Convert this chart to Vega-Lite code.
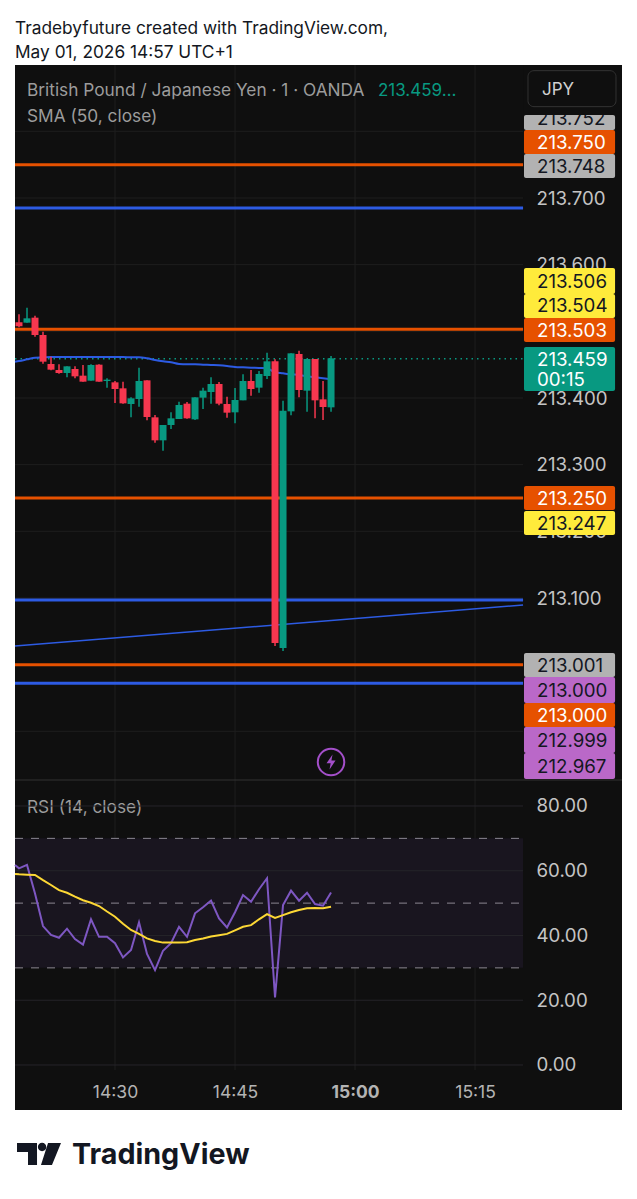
{
"$schema":"https://vega.github.io/schema/vega-lite/v6.json",
"width":607,"height":1045,"autosize":"none","padding":{"left":15,"top":65,"right":15,"bottom":89},
"background":"#ffffff",
"title":{"text":["Tradebyfuture created with TradingView.com,","May 01, 2026 14:57 UTC+1"],"anchor":"start","frame":"group","font":"Inter","fontSize":17.3,"fontWeight":"normal","color":"#131722","lineHeight":24.5,"offset":3},
"config":{"view":{"fill":"#0f0f0f","stroke":null},"text":{"font":"Inter"}},
"datasets":{
"candles":[
{"time":"2026-05-01T14:17:30Z","sma":213.4545,"rsi":61.8,"rsiMa":59.0},
{"time":"2026-05-01T14:18:00Z","open":213.5135,"high":213.5255,"low":213.506,"close":213.5075,"sma":213.4555,"rsi":60.75,"rsiMa":58.9},
{"time":"2026-05-01T14:19:00Z","open":213.513,"high":213.5355,"low":213.513,"close":213.5195,"sma":213.458,"rsi":61.8,"rsiMa":58.8},
{"time":"2026-05-01T14:20:00Z","open":213.5205,"high":213.5235,"low":213.492,"close":213.4945,"sma":213.4605,"rsi":53.0,"rsiMa":58.7},
{"time":"2026-05-01T14:21:00Z","open":213.4945,"high":213.4995,"low":213.4515,"close":213.4545,"sma":213.461,"rsi":42.9,"rsiMa":57.1},
{"time":"2026-05-01T14:22:00Z","open":213.451,"high":213.462,"low":213.4415,"close":213.4425,"sma":213.4615,"rsi":40.2,"rsiMa":55.6},
{"time":"2026-05-01T14:23:00Z","open":213.442,"high":213.4505,"low":213.4365,"close":213.4375,"sma":213.4615,"rsi":39.3,"rsiMa":54.0},
{"time":"2026-05-01T14:24:00Z","open":213.4375,"high":213.4475,"low":213.431,"close":213.4475,"sma":213.4615,"rsi":42.1,"rsiMa":53.2},
{"time":"2026-05-01T14:25:00Z","open":213.4435,"high":213.4475,"low":213.4295,"close":213.4325,"sma":213.4615,"rsi":38.9,"rsiMa":52.0},
{"time":"2026-05-01T14:26:00Z","open":213.4335,"high":213.4495,"low":213.4245,"close":213.4245,"sma":213.4615,"rsi":37.2,"rsiMa":50.9},
{"time":"2026-05-01T14:27:00Z","open":213.426,"high":213.4505,"low":213.426,"close":213.4495,"sma":213.4615,"rsi":45.0,"rsiMa":50.1},
{"time":"2026-05-01T14:28:00Z","open":213.45,"high":213.4505,"low":213.4245,"close":213.4245,"sma":213.4615,"rsi":39.6,"rsiMa":49.1},
{"time":"2026-05-01T14:29:00Z","open":213.4255,"high":213.4295,"low":213.4155,"close":213.4275,"sma":213.4615,"rsi":39.6,"rsiMa":47.4},
{"time":"2026-05-01T14:30:00Z","open":213.4235,"high":213.4255,"low":213.3925,"close":213.4135,"sma":213.4615,"rsi":37.6,"rsiMa":45.8},
{"time":"2026-05-01T14:31:00Z","open":213.4145,"high":213.4245,"low":213.3915,"close":213.392,"sma":213.4615,"rsi":33.2,"rsiMa":43.6},
{"time":"2026-05-01T14:32:00Z","open":213.391,"high":213.401,"low":213.371,"close":213.3995,"sma":213.461,"rsi":35.5,"rsiMa":41.7},
{"time":"2026-05-01T14:33:00Z","open":213.3985,"high":213.4455,"low":213.387,"close":213.4255,"sma":213.461,"rsi":44.1,"rsiMa":40.5},
{"time":"2026-05-01T14:34:00Z","open":213.4265,"high":213.4265,"low":213.3665,"close":213.3715,"sma":213.4595,"rsi":34.3,"rsiMa":39.1},
{"time":"2026-05-01T14:35:00Z","open":213.371,"high":213.3745,"low":213.333,"close":213.3365,"sma":213.457,"rsi":29.3,"rsiMa":38.3},
{"time":"2026-05-01T14:36:00Z","open":213.3365,"high":213.3595,"low":213.321,"close":213.3595,"sma":213.455,"rsi":35.3,"rsiMa":37.8},
{"time":"2026-05-01T14:37:00Z","open":213.3595,"high":213.3785,"low":213.3535,"close":213.3695,"sma":213.4535,"rsi":37.6,"rsiMa":37.8},
{"time":"2026-05-01T14:38:00Z","open":213.3685,"high":213.3945,"low":213.3685,"close":213.3895,"sma":213.451,"rsi":42.7,"rsiMa":37.8},
{"time":"2026-05-01T14:39:00Z","open":213.3915,"high":213.394,"low":213.369,"close":213.3695,"sma":213.4505,"rsi":39.6,"rsiMa":37.9},
{"time":"2026-05-01T14:40:00Z","open":213.368,"high":213.401,"low":213.367,"close":213.401,"sma":213.4505,"rsi":46.85,"rsiMa":38.6},
{"time":"2026-05-01T14:41:00Z","open":213.4005,"high":213.4155,"low":213.3835,"close":213.411,"sma":213.45,"rsi":48.7,"rsiMa":39.1},
{"time":"2026-05-01T14:42:00Z","open":213.409,"high":213.431,"low":213.3915,"close":213.421,"sma":213.4495,"rsi":50.8,"rsiMa":39.7},
{"time":"2026-05-01T14:43:00Z","open":213.421,"high":213.424,"low":213.389,"close":213.3915,"sma":213.449,"rsi":45.3,"rsiMa":40.1},
{"time":"2026-05-01T14:44:00Z","open":213.391,"high":213.402,"low":213.3705,"close":213.378,"sma":213.448,"rsi":42.5,"rsiMa":40.5},
{"time":"2026-05-01T14:45:00Z","open":213.3785,"high":213.415,"low":213.362,"close":213.397,"sma":213.4465,"rsi":47.2,"rsiMa":41.6},
{"time":"2026-05-01T14:46:00Z","open":213.3965,"high":213.4355,"low":213.3965,"close":213.4255,"sma":213.446,"rsi":52.5,"rsiMa":42.7},
{"time":"2026-05-01T14:47:00Z","open":213.4255,"high":213.442,"low":213.4035,"close":213.4135,"sma":213.4455,"rsi":50.45,"rsiMa":43.2},
{"time":"2026-05-01T14:48:00Z","open":213.4155,"high":213.4405,"low":213.408,"close":213.436,"sma":213.445,"rsi":54.3,"rsiMa":45.0},
{"time":"2026-05-01T14:49:00Z","open":213.433,"high":213.468,"low":213.4285,"close":213.455,"sma":213.4445,"rsi":57.7,"rsiMa":46.6},
{"time":"2026-05-01T14:50:00Z","open":213.455,"high":213.458,"low":213.028,"close":213.0325,"sma":213.4385,"rsi":20.9,"rsiMa":45.4},
{"time":"2026-05-01T14:51:00Z","open":213.025,"high":213.396,"low":213.0205,"close":213.381,"sma":213.437,"rsi":49.4,"rsiMa":46.3},
{"time":"2026-05-01T14:52:00Z","open":213.38,"high":213.467,"low":213.374,"close":213.467,"sma":213.4355,"rsi":53.85,"rsiMa":47.2},
{"time":"2026-05-01T14:53:00Z","open":213.466,"high":213.471,"low":213.401,"close":213.412,"sma":213.4345,"rsi":50.75,"rsiMa":47.9},
{"time":"2026-05-01T14:54:00Z","open":213.411,"high":213.4585,"low":213.3795,"close":213.4585,"sma":213.4325,"rsi":53.2,"rsiMa":48.4},
{"time":"2026-05-01T14:55:00Z","open":213.4585,"high":213.4585,"low":213.3695,"close":213.3965,"sma":213.431,"rsi":49.7,"rsiMa":48.5},
{"time":"2026-05-01T14:56:00Z","open":213.398,"high":213.4255,"low":213.367,"close":213.3865,"sma":213.4295,"rsi":49.2,"rsiMa":48.4},
{"time":"2026-05-01T14:57:00Z","open":213.386,"high":213.463,"low":213.3795,"close":213.4595,"sma":213.428,"rsi":53.3,"rsiMa":48.9}
],
"grid":[
{"time":"2026-05-01T14:17:30Z","timeEnd":"2026-05-01T15:21:00Z","price":213.8},
{"time":"2026-05-01T14:17:30Z","timeEnd":"2026-05-01T15:21:00Z","price":213.7},
{"time":"2026-05-01T14:17:30Z","timeEnd":"2026-05-01T15:21:00Z","price":213.6},
{"time":"2026-05-01T14:17:30Z","timeEnd":"2026-05-01T15:21:00Z","price":213.5},
{"time":"2026-05-01T14:17:30Z","timeEnd":"2026-05-01T15:21:00Z","price":213.4},
{"time":"2026-05-01T14:17:30Z","timeEnd":"2026-05-01T15:21:00Z","price":213.3},
{"time":"2026-05-01T14:17:30Z","timeEnd":"2026-05-01T15:21:00Z","price":213.2},
{"time":"2026-05-01T14:17:30Z","timeEnd":"2026-05-01T15:21:00Z","price":213.1},
{"time":"2026-05-01T14:17:30Z","timeEnd":"2026-05-01T15:21:00Z","price":213.0},
{"time":"2026-05-01T14:17:30Z","timeEnd":"2026-05-01T15:21:00Z","price":212.9}
],
"vgrid":[
{"time":"2026-05-01T14:30:00Z","price":213.8995,"priceEnd":212.392},
{"time":"2026-05-01T14:45:00Z","price":213.8995,"priceEnd":212.392},
{"time":"2026-05-01T15:00:00Z","price":213.8995,"priceEnd":212.392},
{"time":"2026-05-01T15:15:00Z","price":213.8995,"priceEnd":212.392}
],
"orangeLevels":[
{"time":"2026-05-01T14:17:30Z","timeEnd":"2026-05-01T15:21:00Z","price":213.75},
{"time":"2026-05-01T14:17:30Z","timeEnd":"2026-05-01T15:21:00Z","price":213.503},
{"time":"2026-05-01T14:17:30Z","timeEnd":"2026-05-01T15:21:00Z","price":213.25},
{"time":"2026-05-01T14:17:30Z","timeEnd":"2026-05-01T15:21:00Z","price":213.0}
],
"blueLevels":[
{"time":"2026-05-01T14:17:30Z","timeEnd":"2026-05-01T15:21:00Z","price":213.685},
{"time":"2026-05-01T14:17:30Z","timeEnd":"2026-05-01T15:21:00Z","price":213.097},
{"time":"2026-05-01T14:17:30Z","timeEnd":"2026-05-01T15:21:00Z","price":212.972}
],
"trend":[
{"time":"2026-05-01T14:17:30Z","price":213.028},
{"time":"2026-05-01T15:21:00Z","price":213.0895}
],
"boxes":[
{"time":"2026-05-01T15:21:07Z","timeEnd":"2026-05-01T15:32:30Z","label":"213.752","kind":"gray","price":213.82,"priceTop":213.8245,"priceBottom":213.802},
{"time":"2026-05-01T15:21:07Z","timeEnd":"2026-05-01T15:32:30Z","label":"213.750","kind":"orange","price":213.784,"priceTop":213.802,"priceBottom":213.766},
{"time":"2026-05-01T15:21:07Z","timeEnd":"2026-05-01T15:32:30Z","label":"213.748","kind":"gray","price":213.748,"priceTop":213.766,"priceBottom":213.73},
{"time":"2026-05-01T15:21:07Z","timeEnd":"2026-05-01T15:32:30Z","label":"213.506","kind":"yellow","price":213.5755,"priceTop":213.595,"priceBottom":213.556},
{"time":"2026-05-01T15:21:07Z","timeEnd":"2026-05-01T15:32:30Z","label":"213.504","kind":"yellow","price":213.5395,"priceTop":213.556,"priceBottom":213.52},
{"time":"2026-05-01T15:21:07Z","timeEnd":"2026-05-01T15:32:30Z","label":"213.503","kind":"orange","price":213.502,"priceTop":213.52,"priceBottom":213.484},
{"time":"2026-05-01T15:21:07Z","timeEnd":"2026-05-01T15:32:30Z","label":"213.459","kind":"teal","price":213.4585,"priceTop":213.4765,"priceBottom":213.4105},
{"time":"2026-05-01T15:21:07Z","label":"00:15","kind":"teal","price":213.4285},
{"time":"2026-05-01T15:21:07Z","timeEnd":"2026-05-01T15:32:30Z","label":"213.250","kind":"orange","price":213.25,"priceTop":213.268,"priceBottom":213.232},
{"time":"2026-05-01T15:21:07Z","timeEnd":"2026-05-01T15:32:30Z","label":"213.247","kind":"yellow","price":213.2125,"priceTop":213.2305,"priceBottom":213.1945},
{"time":"2026-05-01T15:21:07Z","timeEnd":"2026-05-01T15:32:30Z","label":"213.001","kind":"gray","price":212.9995,"priceTop":213.0175,"priceBottom":212.9815},
{"time":"2026-05-01T15:21:07Z","timeEnd":"2026-05-01T15:32:30Z","label":"213.000","kind":"purple","price":212.962,"priceTop":212.9815,"priceBottom":212.9425},
{"time":"2026-05-01T15:21:07Z","timeEnd":"2026-05-01T15:32:30Z","label":"213.000","kind":"orange","price":212.9245,"priceTop":212.9425,"priceBottom":212.9065},
{"time":"2026-05-01T15:21:07Z","timeEnd":"2026-05-01T15:32:30Z","label":"212.999","kind":"purple","price":212.887,"priceTop":212.9065,"priceBottom":212.8675},
{"time":"2026-05-01T15:21:07Z","timeEnd":"2026-05-01T15:32:30Z","label":"212.967","kind":"purple","price":212.848,"priceTop":212.8675,"priceBottom":212.8285}
]
},
"encoding":{"x":{"field":"time","type":"temporal","title":null,
"scale":{"type":"utc","domain":["2026-05-01T14:17:30Z","2026-05-01T15:33:22Z"],"padding":0},
"axis":{"orient":"bottom","offset":-31,"format":"%H:%M","values":["2026-05-01T14:30:00Z","2026-05-01T14:45:00Z","2026-05-01T15:00:00Z","2026-05-01T15:15:00Z"],"grid":false,"ticks":false,"domain":false,"labelFont":"Inter","labelFontSize":17.5,"labelColor":"#b4b4b4","labelPadding":4,"labelFontWeight":{"condition":{"test":"utchours(datum.value)==15 && utcminutes(datum.value)==0","value":"bold"},"value":"normal"}}}},
"layer":[
{"encoding":{"y":{"field":"price","type":"quantitative","title":null,"axis":null,"scale":{"domain":[212.332,213.8995],"nice":false,"zero":false}}},
"resolve":{"axis":{"y":"independent"}},
"layer":[
{"data":{"name":"vgrid"},"mark":{"type":"rule","color":"#1e1e1e","strokeWidth":1},"encoding":{"y2":{"field":"priceEnd"}}},
{"data":{"name":"grid"},"mark":{"type":"rule","color":"#1e1e1e","strokeWidth":1},"encoding":{"x2":{"field":"timeEnd"},"y":{"field":"price","type":"quantitative","title":null,"scale":{"domain":[212.332,213.8995],"nice":false,"zero":false},
"axis":{"orient":"right","offset":-99,"values":[213.7,213.6,213.4,213.3,213.2,213.1],"format":".3f","grid":false,"ticks":false,"domain":false,"labelFont":"Inter","labelFontSize":18.7,"labelColor":"#c4c4c4","labelPadding":13}}}},
{"data":{"values":[{"time":"2026-05-01T14:17:30Z","timeEnd":"2026-05-01T15:33:22Z","price":212.827}]},"mark":{"type":"rule","color":"#333333","strokeWidth":1},"encoding":{"x2":{"field":"timeEnd"}}},
{"data":{"values":[{"time":"2026-05-01T14:17:30Z","timeEnd":"2026-05-01T15:21:00Z","price":213.459}]},"mark":{"type":"rule","color":"#089981","strokeWidth":1.5,"strokeDash":[1.5,4]},"encoding":{"x2":{"field":"timeEnd"}}},
{"data":{"name":"orangeLevels"},"mark":{"type":"rule","color":"#e65100","strokeWidth":3},"encoding":{"x2":{"field":"timeEnd"}}},
{"data":{"name":"blueLevels"},"mark":{"type":"rule","color":"#2d5be3","strokeWidth":3},"encoding":{"x2":{"field":"timeEnd"}}},
{"data":{"name":"trend"},"mark":{"type":"line","color":"#2d5be3","strokeWidth":1.5}},
{"data":{"name":"candles"},"mark":{"type":"line","color":"#2d5be3","strokeWidth":2,"interpolate":"monotone"},"encoding":{"y":{"field":"sma","type":"quantitative","title":null,"axis":null,"scale":{"domain":[212.332,213.8995],"nice":false,"zero":false}}}},
{"data":{"name":"candles"},"mark":{"type":"rule","strokeWidth":1.5},"encoding":{"y":{"field":"low","type":"quantitative","title":null,"axis":null,"scale":{"domain":[212.332,213.8995],"nice":false,"zero":false}},"y2":{"field":"high"},"color":{"condition":{"test":"datum.close>=datum.open","value":"#089981"},"value":"#f7374f"}}},
{"data":{"name":"candles"},"mark":{"type":"bar","size":7},"encoding":{"y":{"field":"open","type":"quantitative","title":null,"axis":null,"scale":{"domain":[212.332,213.8995],"nice":false,"zero":false}},"y2":{"field":"close"},"color":{"condition":{"test":"datum.close>=datum.open","value":"#089981"},"value":"#f7374f"}}},
{"data":{"name":"boxes"},"mark":{"type":"rect","cornerRadius":2},"encoding":{"x2":{"field":"timeEnd"},"y":{"field":"priceTop","type":"quantitative","title":null,"axis":null,"scale":{"domain":[212.332,213.8995],"nice":false,"zero":false}},"y2":{"field":"priceBottom"},"color":{"field":"kind","type":"nominal","legend":null,"scale":{"domain":["gray","orange","yellow","teal","purple"],"range":["#b2b2b2","#e65100","#ffeb3b","#089981","#ba68c8"]}}}},
{"data":{"name":"boxes"},"mark":{"type":"text","align":"left","baseline":"middle","dx":13,"dy":1,"fontSize":18.7,"font":"Inter"},"encoding":{"text":{"field":"label"},"color":{"condition":{"test":"datum.kind=='orange'||datum.kind=='teal'","value":"#ffffff"},"value":"#131722"}}},
{"data":{"values":[{"time":"2026-05-01T15:21:07Z","timeEnd":"2026-05-01T15:33:22Z","price":213.8995,"priceEnd":213.8245}]},"mark":{"type":"rect","color":"#0f0f0f"},"encoding":{"x2":{"field":"timeEnd"},"y2":{"field":"priceEnd"}}},
{"data":{"values":[{"time":"2026-05-01T15:21:37Z","timeEnd":"2026-05-01T15:32:37Z","price":213.891,"priceEnd":213.837}]},"mark":{"type":"rect","fill":"#0f0f0f","stroke":"#333333","strokeWidth":1,"cornerRadius":6},"encoding":{"x2":{"field":"timeEnd"},"y2":{"field":"priceEnd"}}},
{"data":{"values":[{"time":"2026-05-01T15:23:22Z","price":213.864,"label":"JPY"}]},"mark":{"type":"text","align":"left","baseline":"middle","dy":1,"fontSize":17,"color":"#d1d1d1","font":"Inter"},"encoding":{"text":{"field":"label"}}},
{"data":{"values":[{"time":"2026-05-01T14:19:00Z","price":213.862,"label":"British Pound / Japanese Yen · 1 · OANDA"},{"time":"2026-05-01T14:19:00Z","price":213.823,"label":"SMA (50, close)"},{"time":"2026-05-01T14:19:00Z","price":212.7865,"label":"RSI (14, close)"}]},"mark":{"type":"text","align":"left","baseline":"middle","dy":1,"fontSize":17.3,"color":"#9c9c9c","font":"Inter"},"encoding":{"text":{"field":"label"}}},
{"data":{"values":[{"time":"2026-05-01T15:02:52Z","price":213.862,"label":"213.459…"}]},"mark":{"type":"text","align":"left","baseline":"middle","dy":1,"fontSize":17,"color":"#089981","font":"Inter"},"encoding":{"text":{"field":"label"}}},
{"data":{"values":[{"time":"2026-05-01T14:57:00Z","price":212.854}]},"mark":{"type":"point","filled":false,"stroke":"#a34fc9","strokeWidth":2,"size":700,"opacity":1}},
{"data":{"values":[{"time":"2026-05-01T14:57:00Z","price":212.854}]},"mark":{"type":"point","filled":true,"fill":"#a34fc9","stroke":null,"opacity":1,"size":225,"shape":"M0.2,-1 L-0.6,0.15 L-0.05,0.15 L-0.2,1 L0.6,-0.2 L0.05,-0.2 Z"}},
{"data":{"values":[{"time":"2026-05-01T14:20:30Z","price":212.266}]},"mark":{"type":"point","filled":true,"fill":"#131722","stroke":null,"opacity":1,"size":1936,"shape":"M-1,-0.5 L-0.09,-0.5 L-0.09,0.5 L-0.5,0.5 L-0.5,-0.09 L-1,-0.09 Z M0.41,-0.5 L1,-0.5 L0.59,0.5 L0.09,0.5 Z M0.33,-0.32 A0.19,0.19 0 1 0 -0.05,-0.32 A0.19,0.19 0 1 0 0.33,-0.32 Z"}},
{"data":{"values":[{"time":"2026-05-01T14:24:37Z","price":212.2645,"label":"TradingView"}]},"mark":{"type":"text","align":"left","baseline":"middle","fontSize":28.7,"fontWeight":"bold","color":"#131722","font":"Inter"},"encoding":{"text":{"field":"label"}}}
]},
{"encoding":{"y":{"field":"value","type":"quantitative","title":null,"axis":null,"scale":{"domain":[-13.9,308.88],"nice":false,"zero":false}}},
"resolve":{"axis":{"y":"independent"}},
"layer":[
{"data":{"values":[{"time":"2026-05-01T14:17:30Z","timeEnd":"2026-05-01T15:21:00Z","value":70,"valueEnd":30}]},"mark":{"type":"rect","color":"#19151f"},"encoding":{"x2":{"field":"timeEnd"},"y2":{"field":"valueEnd"}}},
{"data":{"values":[{"time":"2026-05-01T14:17:30Z","timeEnd":"2026-05-01T15:21:00Z","value":0},{"time":"2026-05-01T14:17:30Z","timeEnd":"2026-05-01T15:21:00Z","value":20},{"time":"2026-05-01T14:17:30Z","timeEnd":"2026-05-01T15:21:00Z","value":40},{"time":"2026-05-01T14:17:30Z","timeEnd":"2026-05-01T15:21:00Z","value":60},{"time":"2026-05-01T14:17:30Z","timeEnd":"2026-05-01T15:21:00Z","value":80}]},"mark":{"type":"rule","color":"#252429","strokeWidth":1},"encoding":{"x2":{"field":"timeEnd"},"y":{"field":"value","type":"quantitative","title":null,"scale":{"domain":[-13.9,308.88],"nice":false,"zero":false},
"axis":{"orient":"right","offset":-99,"values":[0,20,40,60,80],"format":".2f","grid":false,"ticks":false,"domain":false,"labelFont":"Inter","labelFontSize":18.7,"labelColor":"#c4c4c4","labelPadding":13}}}},
{"data":{"values":[{"time":"2026-05-01T14:17:30Z","timeEnd":"2026-05-01T15:21:00Z","value":70},{"time":"2026-05-01T14:17:30Z","timeEnd":"2026-05-01T15:21:00Z","value":50},{"time":"2026-05-01T14:17:30Z","timeEnd":"2026-05-01T15:21:00Z","value":30}]},"mark":{"type":"rule","color":"#8b8791","strokeWidth":1,"strokeDash":[8,8]},"encoding":{"x2":{"field":"timeEnd"}}},
{"data":{"name":"candles"},"mark":{"type":"line","color":"#7e57c2","strokeWidth":2},"encoding":{"y":{"field":"rsi","type":"quantitative","title":null,"axis":null,"scale":{"domain":[-13.9,308.88],"nice":false,"zero":false}}}},
{"data":{"name":"candles"},"mark":{"type":"line","color":"#fdd835","strokeWidth":2},"encoding":{"y":{"field":"rsiMa","type":"quantitative","title":null,"axis":null,"scale":{"domain":[-13.9,308.88],"nice":false,"zero":false}}}}
]}
],
"resolve":{"scale":{"y":"independent"},"axis":{"y":"independent"}}
}
